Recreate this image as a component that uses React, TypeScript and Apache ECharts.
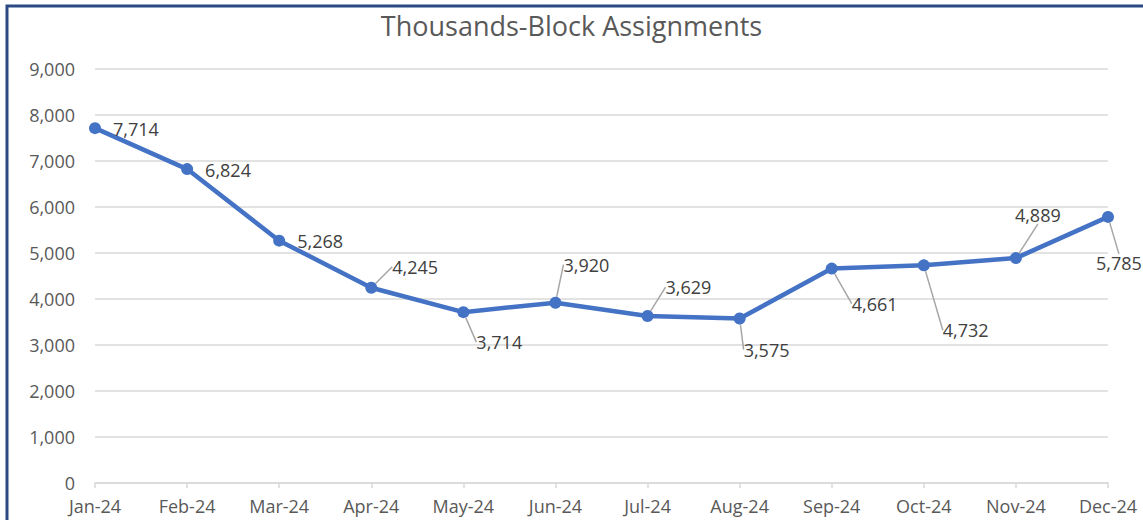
import React, { useEffect, useRef } from "react";
import * as echarts from "echarts";

const TITLE = "Thousands-Block Assignments";
const MONTHS = ["Jan-24", "Feb-24", "Mar-24", "Apr-24", "May-24", "Jun-24", "Jul-24", "Aug-24", "Sep-24", "Oct-24", "Nov-24", "Dec-24"];
const VALUES = [7714, 6824, 5268, 4245, 3714, 3920, 3629, 3575, 4661, 4732, 4889, 5785];
const Y_MIN = 0;
const Y_MAX = 9000;
const Y_STEP = 1000;

// label displacement (layout only, pixels relative to default "right" position)
const LABEL_DX = [7, 7, 7, 10, 2, -3, 7, -7, 9, 8, -12, -23];
const LABEL_DY = [1, 1, 0, -21, 30, -38, -29, 31, 35, 65, -43, 46];
const LABEL_LEADER = [false, false, false, true, true, true, true, true, true, true, true, true];

const FONT = "'Open Sans', sans-serif";

export default function App() {
  const ref = useRef<HTMLDivElement>(null);
  useEffect(() => {
    if (!ref.current) return;
    const chart = echarts.init(ref.current, undefined, { renderer: "svg" });
    chart.setOption({
      animation: false,
      backgroundColor: "#ffffff",
      title: {
        text: TITLE,
        left: "center",
        top: 7,
        textStyle: { fontFamily: FONT, fontSize: 27, fontWeight: "normal", color: "#595959" },
      },
      graphic: [
        {
          type: "rect",
          shape: { x: 7, y: 6, width: 1300, height: 700 },
          style: { fill: "none", stroke: "#2B4A84", lineWidth: 3 },
          silent: true,
        },
      ],
      grid: { left: 95, right: 35, top: 69, bottom: 37 },
      xAxis: {
        type: "category",
        data: MONTHS,
        boundaryGap: false,
        axisLine: { lineStyle: { color: "#d9d9d9", width: 1.5 } },
        axisTick: { show: true, length: 5, lineStyle: { color: "#d9d9d9", width: 1.5 } },
        axisLabel: { fontFamily: FONT, fontSize: 18, color: "#595959", margin: 14 },
      },
      yAxis: {
        type: "value",
        min: Y_MIN,
        max: Y_MAX,
        interval: Y_STEP,
        axisLine: { show: false },
        axisTick: { show: false },
        splitLine: { lineStyle: { color: "#d9d9d9", width: 1.5 } },
        axisLabel: {
          fontFamily: FONT,
          fontSize: 18,
          color: "#595959",
          margin: 20,
          formatter: (v: number) => v.toLocaleString("en-US"),
        },
      },
      series: [
        {
          type: "line",
          data: VALUES.map((v, i) => ({
            value: v,
            labelLine: { show: LABEL_LEADER[i] },
          })),
          lineStyle: { color: "#4472C4", width: 4.5 },
          itemStyle: { color: "#4472C4" },
          symbol: "circle",
          symbolSize: 12,
          label: {
            show: true,
            position: "right",
            distance: 5,
            fontFamily: FONT,
            fontSize: 18,
            color: "#404040",
            formatter: (p: any) => Number(p.value).toLocaleString("en-US"),
          },
          labelLine: { show: true, lineStyle: { color: "#a6a6a6", width: 1.5 } },
          labelLayout: (p: any) => ({ dx: LABEL_DX[p.dataIndex], dy: LABEL_DY[p.dataIndex] }),
        },
      ],
    });
    return () => chart.dispose();
  }, []);
  return <div ref={ref} style={{ position: "fixed", left: 0, top: 0, width: 1143, height: 520 }} />;
}
